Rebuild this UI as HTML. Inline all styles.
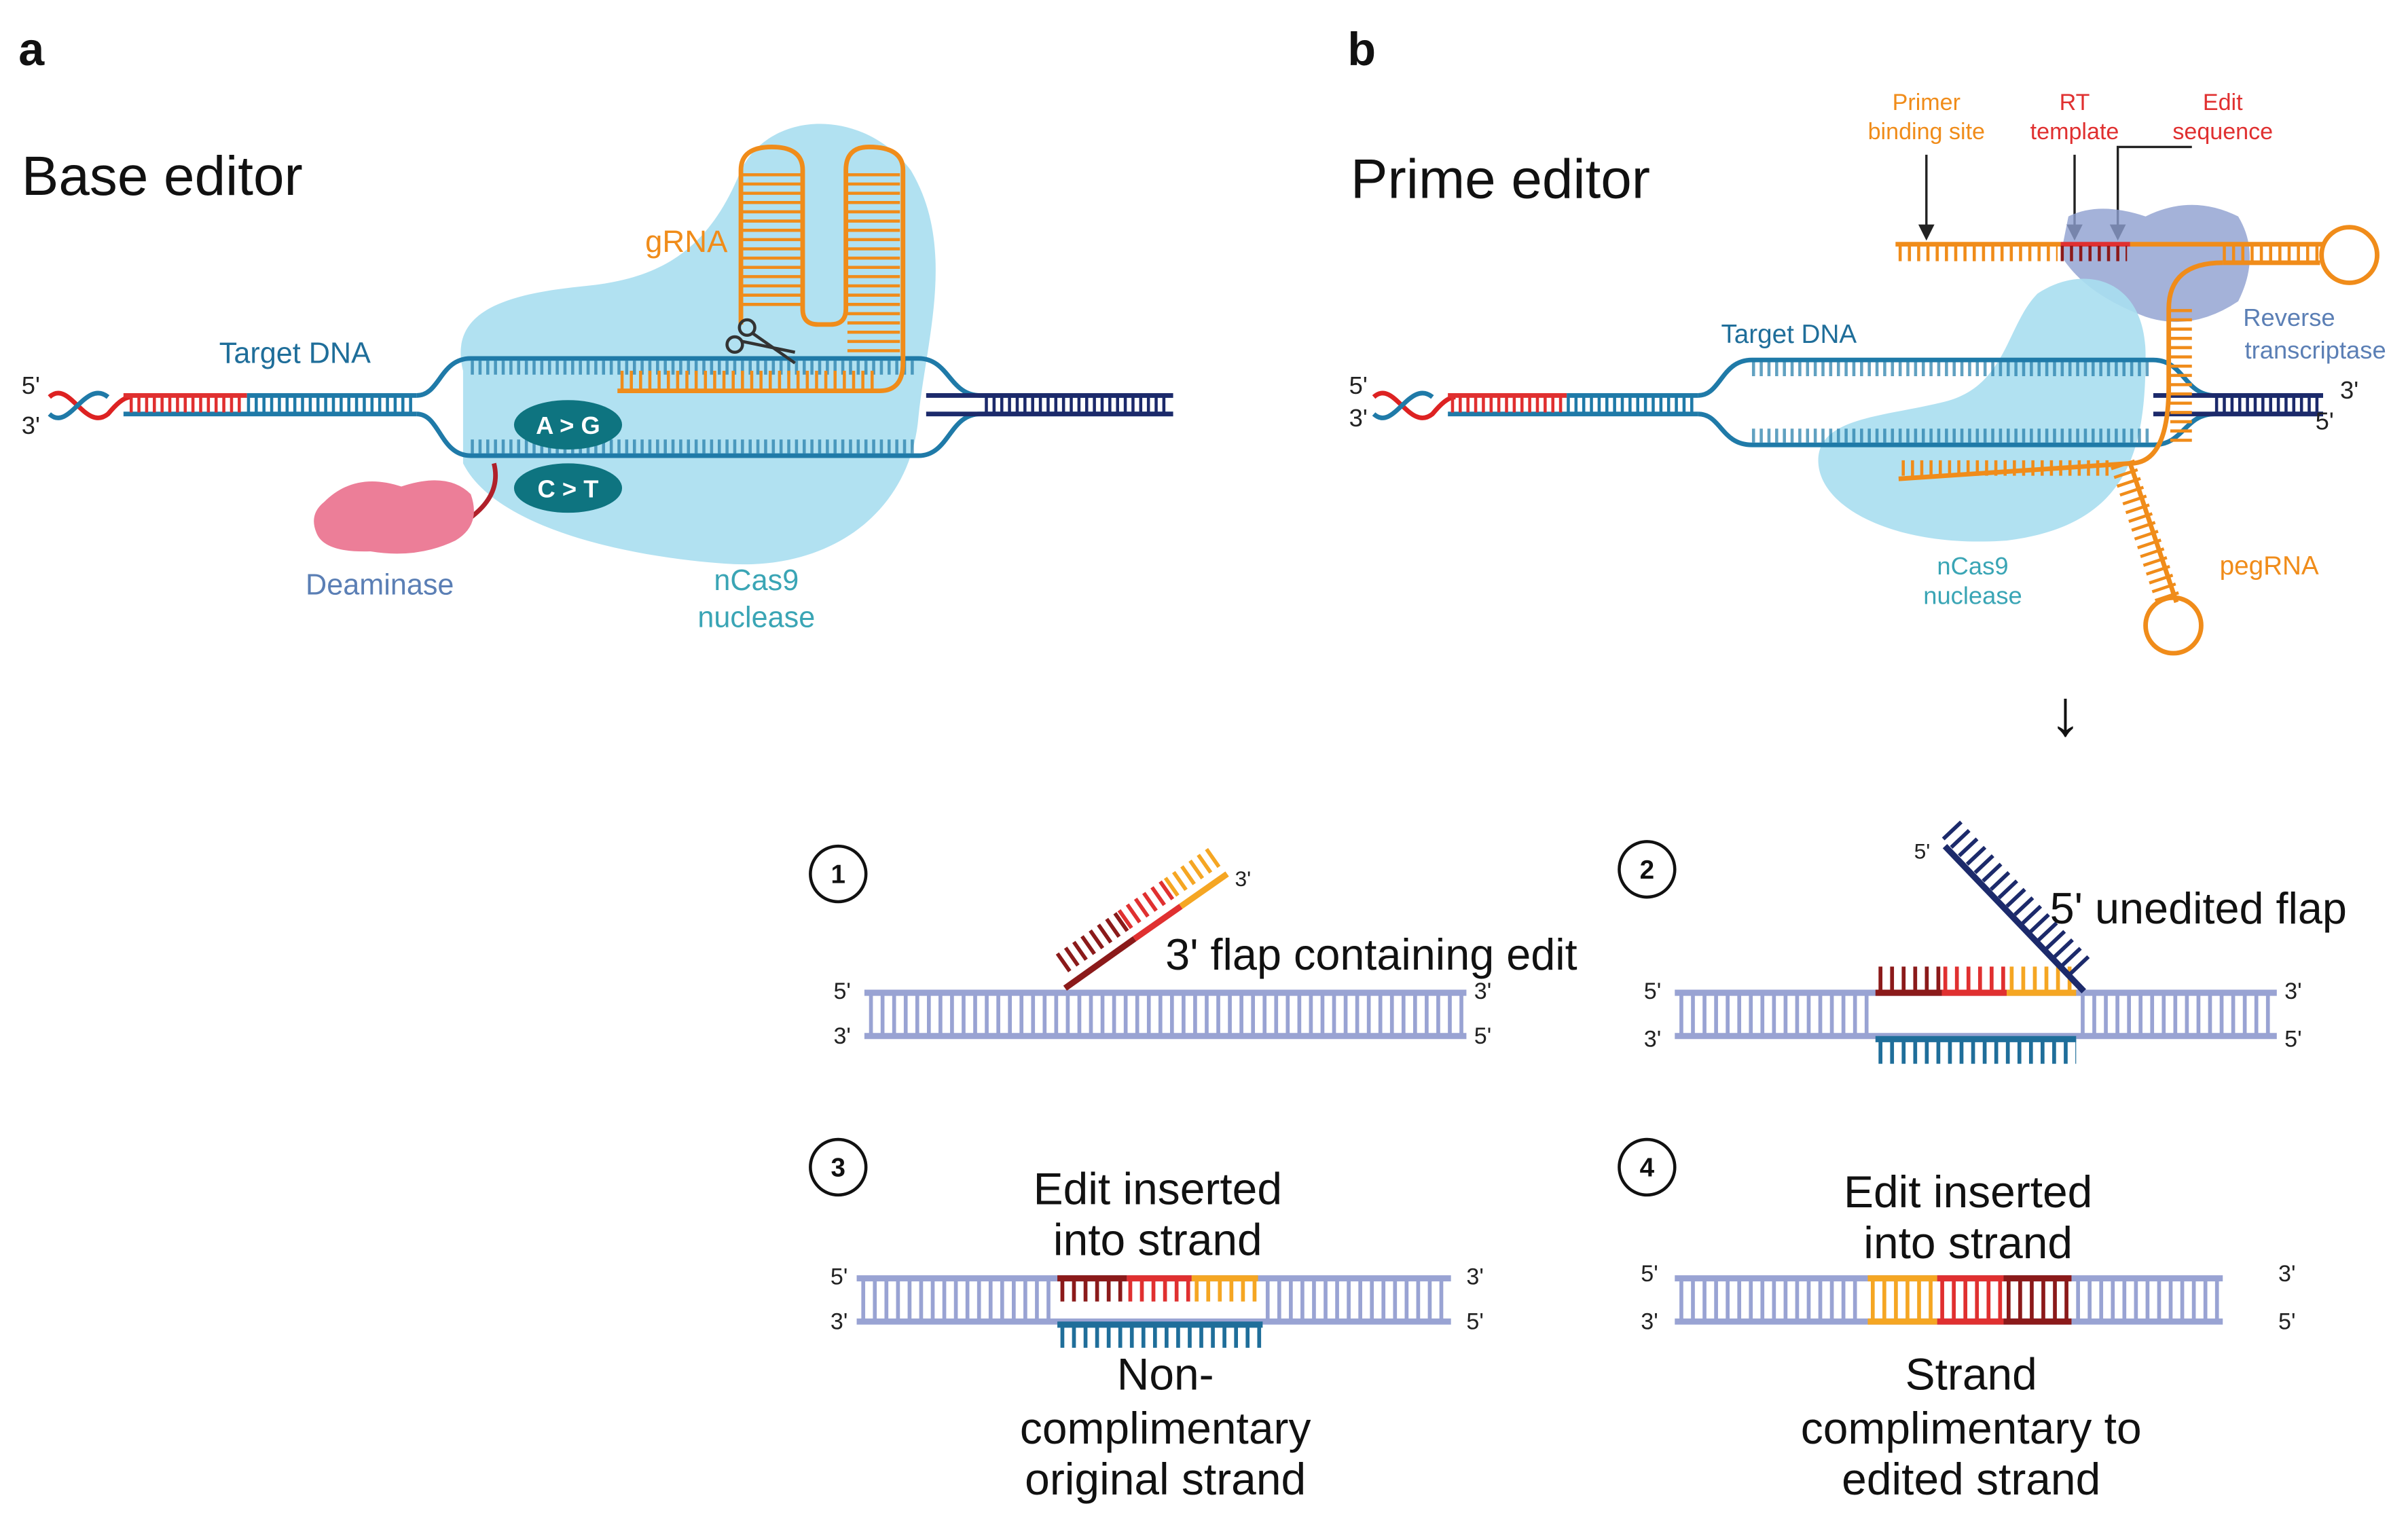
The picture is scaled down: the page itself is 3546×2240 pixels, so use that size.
<!DOCTYPE html>
<html><head><meta charset="utf-8"><style>
html,body{margin:0;padding:0;background:#fff;}
svg{display:block;}
text{font-family:"Liberation Sans",sans-serif;}
</style></head><body>
<svg width="3546" height="2240" viewBox="0 0 1560 985" xmlns="http://www.w3.org/2000/svg">
<rect width="1560" height="985" fill="#fff"/>
<!-- Panel a -->
<text x="12" y="42" font-size="30" font-weight="bold" fill="#111">a</text>
<text x="14" y="126" font-size="36" fill="#111">Base editor</text>
<path d="M300,240 C290,200 330,190 380,185 C430,180 460,160 480,110 C500,70 560,70 590,110 C620,160 600,220 595,270 C590,330 540,370 470,365 C400,360 320,340 300,300 Z" fill="#a9def0" opacity="0.9"/>
<path d="M32,257 C45,245 55,280 70,268 C75,262 80,257 85,257" stroke="#d22" stroke-width="3" fill="none"/>
<path d="M32,268 C45,280 55,245 70,257" stroke="#1f7aa8" stroke-width="3" fill="none"/>
<line x1="80" y1="256" x2="160" y2="256" stroke="#e03030" stroke-width="3"/>
<line x1="160" y1="256" x2="270" y2="256" stroke="#1f7aa8" stroke-width="3"/>
<line x1="80" y1="268" x2="270" y2="268" stroke="#1f7aa8" stroke-width="3"/>
<line x1="84" y1="262" x2="158" y2="262" stroke="#e03030" stroke-width="10" stroke-dasharray="2 3"/>
<line x1="160" y1="262" x2="268" y2="262" stroke="#1f7aa8" stroke-width="10" stroke-dasharray="2 3"/>
<path d="M270,256 C285,256 285,232 305,232 L595,232 C615,232 615,256 635,256 L760,256" stroke="#1f7aa8" stroke-width="3" fill="none"/>
<path d="M270,268 C285,268 285,295 305,295 L595,295 C615,295 615,268 635,268 L760,268" stroke="#1f7aa8" stroke-width="3" fill="none"/>
<line x1="600" y1="256" x2="760" y2="256" stroke="#1c2a6b" stroke-width="3"/>
<line x1="600" y1="268" x2="760" y2="268" stroke="#1c2a6b" stroke-width="3"/>
<line x1="638" y1="262" x2="758" y2="262" stroke="#1c2a6b" stroke-width="10" stroke-dasharray="2 3"/>
<line x1="305" y1="238" x2="595" y2="238" stroke="#1f7aa8" stroke-width="9" stroke-dasharray="2 3" opacity="0.7"/>
<line x1="305" y1="289" x2="595" y2="289" stroke="#1f7aa8" stroke-width="9" stroke-dasharray="2 3" opacity="0.7"/>
<path d="M400,253 L570,253 Q585,253 585,235 L585,110 Q585,95 563,95 Q548,95 548,110 L548,200 Q548,210 538,210 L530,210 Q520,210 520,200 L520,110 Q520,95 500,95 Q480,95 480,110 L480,210" stroke="#f08c1a" stroke-width="3" fill="none"/>
<line x1="402" y1="246" x2="568" y2="246" stroke="#f08c1a" stroke-width="12" stroke-dasharray="2 4"/>
<line x1="500" y1="112" x2="500" y2="200" stroke="#f08c1a" stroke-width="38" stroke-dasharray="2 4"/>
<line x1="566" y1="112" x2="566" y2="230" stroke="#f08c1a" stroke-width="34" stroke-dasharray="2 4"/>
<text x="418" y="163" font-size="20" fill="#f08c1a">gRNA</text>
<g stroke="#333" stroke-width="2" fill="none"><circle cx="484" cy="212" r="5"/><circle cx="476" cy="223" r="5"/><line x1="488" y1="216" x2="515" y2="235"/><line x1="481" y1="221" x2="515" y2="228"/></g>
<text x="142" y="235" font-size="19" fill="#1f6e9a">Target DNA</text>
<text x="14" y="255" font-size="16" fill="#222">5'</text>
<text x="14" y="281" font-size="16" fill="#222">3'</text>
<ellipse cx="368" cy="275" rx="35" ry="16" fill="#0e7480"/>
<text x="368" y="281" font-size="16" font-weight="bold" fill="#fff" text-anchor="middle">A &gt; G</text>
<ellipse cx="368" cy="316" rx="35" ry="16" fill="#0e7480"/>
<text x="368" y="322" font-size="16" font-weight="bold" fill="#fff" text-anchor="middle">C &gt; T</text>
<path d="M305,335 Q325,320 320,300" stroke="#b0202a" stroke-width="3" fill="none"/>
<path d="M210,325 Q230,305 260,315 Q290,305 305,320 Q312,340 295,350 Q270,362 240,357 Q210,358 205,345 Q200,333 210,325Z" fill="#ec7e98"/>
<text x="198" y="385" font-size="19" fill="#5b7fb5">Deaminase</text>
<text x="490" y="382" font-size="19" fill="#3aa5b5" text-anchor="middle">nCas9</text>
<text x="490" y="406" font-size="19" fill="#3aa5b5" text-anchor="middle">nuclease</text>

<!-- Panel b -->
<text x="873" y="42" font-size="30" font-weight="bold" fill="#111">b</text>
<text x="875" y="128" font-size="36" fill="#111">Prime editor</text>
<text x="1248" y="71" font-size="15" fill="#f08c1a" text-anchor="middle">Primer</text>
<text x="1248" y="90" font-size="15" fill="#f08c1a" text-anchor="middle">binding site</text>
<text x="1344" y="71" font-size="15" fill="#e03030" text-anchor="middle">RT</text>
<text x="1344" y="90" font-size="15" fill="#e03030" text-anchor="middle">template</text>
<text x="1440" y="71" font-size="15" fill="#e03030" text-anchor="middle">Edit</text>
<text x="1440" y="90" font-size="15" fill="#e03030" text-anchor="middle">sequence</text>
<g stroke="#222" stroke-width="1.5" fill="#222">
<line x1="1248" y1="100" x2="1248" y2="150"/><path d="M1244,146 L1252,146 L1248,154Z"/>
<line x1="1344" y1="100" x2="1344" y2="150"/><path d="M1340,146 L1348,146 L1344,154Z"/>
<path d="M1420,95 L1372,95 L1372,150" fill="none"/><path d="M1368,146 L1376,146 L1372,154Z"/>
</g>
<path d="M1340,140 Q1360,130 1390,140 Q1420,125 1450,140 Q1465,165 1450,195 Q1420,215 1390,205 Q1350,190 1335,165Z" fill="#8d9fcf" opacity="0.8"/>
<path d="M1320,190 C1350,170 1390,180 1390,230 C1390,290 1380,340 1300,350 C1230,355 1180,330 1178,300 C1176,270 1220,270 1260,260 C1300,250 1300,210 1320,190Z" fill="#a9def0" opacity="0.9"/>
<path d="M890,257 C903,245 913,280 928,268 C933,262 938,257 943,257" stroke="#d22" stroke-width="3" fill="none"/>
<path d="M890,268 C903,280 913,245 928,257" stroke="#1f7aa8" stroke-width="3" fill="none"/>
<line x1="938" y1="256" x2="1015" y2="256" stroke="#e03030" stroke-width="3"/>
<line x1="1015" y1="256" x2="1100" y2="256" stroke="#1f7aa8" stroke-width="3"/>
<line x1="938" y1="268" x2="1100" y2="268" stroke="#1f7aa8" stroke-width="3"/>
<line x1="940" y1="262" x2="1013" y2="262" stroke="#e03030" stroke-width="10" stroke-dasharray="2 3"/>
<line x1="1015" y1="262" x2="1100" y2="262" stroke="#1f7aa8" stroke-width="10" stroke-dasharray="2 3"/>
<path d="M1100,256 C1115,256 1115,233 1135,233 L1395,233 C1415,233 1415,256 1435,256 L1505,256" stroke="#1f7aa8" stroke-width="3" fill="none"/>
<path d="M1100,268 C1115,268 1115,288 1135,288 L1395,288 C1415,288 1415,268 1435,268 L1505,268" stroke="#1f7aa8" stroke-width="3" fill="none"/>
<line x1="1395" y1="256" x2="1505" y2="256" stroke="#1c2a6b" stroke-width="3"/>
<line x1="1395" y1="268" x2="1505" y2="268" stroke="#1c2a6b" stroke-width="3"/>
<line x1="1435" y1="262" x2="1503" y2="262" stroke="#1c2a6b" stroke-width="10" stroke-dasharray="2 3"/>
<line x1="1135" y1="239" x2="1395" y2="239" stroke="#1f7aa8" stroke-width="9" stroke-dasharray="2 3" opacity="0.7"/>
<line x1="1135" y1="282" x2="1395" y2="282" stroke="#1f7aa8" stroke-width="9" stroke-dasharray="2 3" opacity="0.7"/>
<line x1="1228" y1="158" x2="1335" y2="158" stroke="#f08c1a" stroke-width="3"/>
<line x1="1335" y1="158" x2="1380" y2="158" stroke="#e03030" stroke-width="3"/>
<line x1="1380" y1="158" x2="1505" y2="158" stroke="#f08c1a" stroke-width="3"/>
<line x1="1230" y1="164" x2="1333" y2="164" stroke="#f08c1a" stroke-width="10" stroke-dasharray="2 4"/>
<line x1="1335" y1="164" x2="1378" y2="164" stroke="#8b1a1a" stroke-width="10" stroke-dasharray="2 4"/>
<line x1="1440" y1="164" x2="1503" y2="164" stroke="#f08c1a" stroke-width="10" stroke-dasharray="2 4"/>
<line x1="1440" y1="170" x2="1503" y2="170" stroke="#f08c1a" stroke-width="3"/>
<circle cx="1522" cy="165" r="18" stroke="#f08c1a" stroke-width="3" fill="none"/>
<path d="M1440,170 Q1405,170 1405,200 L1405,250 Q1405,300 1380,300 L1230,310 M1380,300 L1410,390" stroke="#f08c1a" stroke-width="3" fill="none"/>
<line x1="1413" y1="200" x2="1413" y2="290" stroke="#f08c1a" stroke-width="14" stroke-dasharray="2 4"/>
<line x1="1232" y1="303" x2="1370" y2="303" stroke="#f08c1a" stroke-width="10" stroke-dasharray="2 4"/>
<path d="M1375,300 L1405,390" stroke="#f08c1a" stroke-width="16" stroke-dasharray="2 4" fill="none"/>
<circle cx="1408" cy="405" r="18" stroke="#f08c1a" stroke-width="3" fill="none"/>
<text x="1115" y="222" font-size="17" fill="#1f6e9a">Target DNA</text>
<text x="874" y="255" font-size="16" fill="#222">5'</text>
<text x="874" y="276" font-size="16" fill="#222">3'</text>
<text x="1516" y="258" font-size="16" fill="#222">3'</text>
<text x="1500" y="278" font-size="16" fill="#222">5'</text>
<text x="1483" y="211" font-size="16" fill="#5b7fb5" text-anchor="middle">Reverse</text>
<text x="1500" y="232" font-size="16" fill="#5b7fb5" text-anchor="middle">transcriptase</text>
<text x="1278" y="372" font-size="16" fill="#3aa5b5" text-anchor="middle">nCas9</text>
<text x="1278" y="391" font-size="16" fill="#3aa5b5" text-anchor="middle">nuclease</text>
<text x="1438" y="372" font-size="17" fill="#f08c1a">pegRNA</text>
<text x="1338" y="476" font-size="42" fill="#111" text-anchor="middle">↓</text>

<g stroke="#111" stroke-width="2" fill="none">
<circle cx="543" cy="566" r="18"/><circle cx="1067" cy="563" r="18"/>
<circle cx="543" cy="756" r="18"/><circle cx="1067" cy="756" r="18"/></g>
<g font-size="17" font-weight="bold" text-anchor="middle" fill="#111">
<text x="543" y="572">1</text><text x="1067" y="569">2</text><text x="543" y="762">3</text><text x="1067" y="762">4</text></g>

<g stroke="#99a3d3">
<line x1="560" y1="643" x2="950" y2="643" stroke-width="4"/>
<line x1="560" y1="671" x2="950" y2="671" stroke-width="4"/>
<line x1="563" y1="657" x2="950" y2="657" stroke-width="26" stroke-dasharray="2.5 5"/></g>
<path d="M690,640 L735,608" stroke="#8b1a1a" stroke-width="4"/><path d="M735,608 L765,587" stroke="#e03030" stroke-width="4"/><path d="M765,587 L795,566" stroke="#f5a623" stroke-width="4"/>
<path d="M693,631 L733,603" stroke="#8b1a1a" stroke-width="14" stroke-dasharray="2.5 4" transform="translate(-5,-7)"/>
<path d="M733,603 L763,582" stroke="#e03030" stroke-width="14" stroke-dasharray="2.5 4" transform="translate(-5,-7)"/>
<path d="M763,582 L793,561" stroke="#f5a623" stroke-width="14" stroke-dasharray="2.5 4" transform="translate(-5,-7)"/>
<text x="800" y="574" font-size="14" fill="#222">3'</text>
<text x="755" y="628" font-size="28.5" fill="#111">3' flap containing edit</text>
<text x="540" y="647" font-size="15" fill="#222">5'</text><text x="955" y="647" font-size="15" fill="#222">3'</text>
<text x="540" y="676" font-size="15" fill="#222">3'</text><text x="955" y="676" font-size="15" fill="#222">5'</text>

<g stroke="#99a3d3">
<line x1="1085" y1="643" x2="1475" y2="643" stroke-width="4"/>
<line x1="1085" y1="671" x2="1475" y2="671" stroke-width="4"/>
<line x1="1088" y1="657" x2="1213" y2="657" stroke-width="26" stroke-dasharray="2.5 5"/>
<line x1="1348" y1="657" x2="1475" y2="657" stroke-width="26" stroke-dasharray="2.5 5"/></g>
<line x1="1215" y1="643" x2="1258" y2="643" stroke="#8b1a1a" stroke-width="4"/>
<line x1="1258" y1="643" x2="1300" y2="643" stroke="#e03030" stroke-width="4"/>
<line x1="1300" y1="643" x2="1345" y2="643" stroke="#f5a623" stroke-width="4"/>
<line x1="1217" y1="634" x2="1258" y2="634" stroke="#8b1a1a" stroke-width="16" stroke-dasharray="2.5 5"/>
<line x1="1259" y1="634" x2="1300" y2="634" stroke="#e03030" stroke-width="16" stroke-dasharray="2.5 5"/>
<line x1="1302" y1="634" x2="1345" y2="634" stroke="#f5a623" stroke-width="16" stroke-dasharray="2.5 5"/>
<line x1="1215" y1="673" x2="1345" y2="673" stroke="#1f6e9a" stroke-width="4"/>
<line x1="1217" y1="681" x2="1345" y2="681" stroke="#1f6e9a" stroke-width="16" stroke-dasharray="2.5 5"/>
<path d="M1350,642 L1260,548" stroke="#1c2a6b" stroke-width="4"/>
<path d="M1340,630 L1255,540" stroke="#1c2a6b" stroke-width="16" stroke-dasharray="2.5 5" transform="translate(8,-4)"/>
<text x="1240" y="556" font-size="14" fill="#222">5'</text>
<text x="1328" y="598" font-size="28.5" fill="#111">5' unedited flap</text>
<text x="1065" y="647" font-size="15" fill="#222">5'</text><text x="1480" y="647" font-size="15" fill="#222">3'</text>
<text x="1065" y="678" font-size="15" fill="#222">3'</text><text x="1480" y="678" font-size="15" fill="#222">5'</text>

<g stroke="#99a3d3">
<line x1="555" y1="828" x2="940" y2="828" stroke-width="4"/>
<line x1="555" y1="856" x2="940" y2="856" stroke-width="4"/>
<line x1="558" y1="842" x2="683" y2="842" stroke-width="26" stroke-dasharray="2.5 5"/>
<line x1="820" y1="842" x2="940" y2="842" stroke-width="26" stroke-dasharray="2.5 5"/></g>
<line x1="685" y1="828" x2="730" y2="828" stroke="#8b1a1a" stroke-width="4"/>
<line x1="730" y1="828" x2="772" y2="828" stroke="#e03030" stroke-width="4"/>
<line x1="772" y1="828" x2="815" y2="828" stroke="#f5a623" stroke-width="4"/>
<line x1="687" y1="836" x2="730" y2="836" stroke="#8b1a1a" stroke-width="14" stroke-dasharray="2.5 5"/>
<line x1="731" y1="836" x2="772" y2="836" stroke="#e03030" stroke-width="14" stroke-dasharray="2.5 5"/>
<line x1="774" y1="836" x2="815" y2="836" stroke="#f5a623" stroke-width="14" stroke-dasharray="2.5 5"/>
<line x1="685" y1="858" x2="818" y2="858" stroke="#1f6e9a" stroke-width="4"/>
<line x1="687" y1="866" x2="818" y2="866" stroke="#1f6e9a" stroke-width="14" stroke-dasharray="2.5 5"/>
<text x="750" y="780" font-size="29" fill="#111" text-anchor="middle">Edit inserted</text>
<text x="750" y="813" font-size="29" fill="#111" text-anchor="middle">into strand</text>
<text x="755" y="900" font-size="29" fill="#111" text-anchor="middle">Non-</text>
<text x="755" y="935" font-size="29" fill="#111" text-anchor="middle">complimentary</text>
<text x="755" y="968" font-size="29" fill="#111" text-anchor="middle">original strand</text>
<text x="538" y="832" font-size="15" fill="#222">5'</text><text x="950" y="832" font-size="15" fill="#222">3'</text>
<text x="538" y="861" font-size="15" fill="#222">3'</text><text x="950" y="861" font-size="15" fill="#222">5'</text>

<g stroke="#99a3d3">
<line x1="1085" y1="828" x2="1440" y2="828" stroke-width="4"/>
<line x1="1085" y1="856" x2="1440" y2="856" stroke-width="4"/>
<line x1="1088" y1="842" x2="1208" y2="842" stroke-width="26" stroke-dasharray="2.5 5"/>
<line x1="1345" y1="842" x2="1440" y2="842" stroke-width="26" stroke-dasharray="2.5 5"/></g>
<line x1="1210" y1="828" x2="1255" y2="828" stroke="#f5a623" stroke-width="4"/><line x1="1210" y1="856" x2="1255" y2="856" stroke="#f5a623" stroke-width="4"/>
<line x1="1212" y1="842" x2="1255" y2="842" stroke="#f5a623" stroke-width="26" stroke-dasharray="2.5 5"/>
<line x1="1255" y1="828" x2="1298" y2="828" stroke="#e03030" stroke-width="4"/><line x1="1255" y1="856" x2="1298" y2="856" stroke="#e03030" stroke-width="4"/>
<line x1="1257" y1="842" x2="1298" y2="842" stroke="#e03030" stroke-width="26" stroke-dasharray="2.5 5"/>
<line x1="1298" y1="828" x2="1342" y2="828" stroke="#8b1a1a" stroke-width="4"/><line x1="1298" y1="856" x2="1342" y2="856" stroke="#8b1a1a" stroke-width="4"/>
<line x1="1300" y1="842" x2="1342" y2="842" stroke="#8b1a1a" stroke-width="26" stroke-dasharray="2.5 5"/>
<text x="1275" y="782" font-size="29" fill="#111" text-anchor="middle">Edit inserted</text>
<text x="1275" y="815" font-size="29" fill="#111" text-anchor="middle">into strand</text>
<text x="1277" y="900" font-size="29" fill="#111" text-anchor="middle">Strand</text>
<text x="1277" y="935" font-size="29" fill="#111" text-anchor="middle">complimentary to</text>
<text x="1277" y="968" font-size="29" fill="#111" text-anchor="middle">edited strand</text>
<text x="1063" y="830" font-size="15" fill="#222">5'</text><text x="1476" y="830" font-size="15" fill="#222">3'</text>
<text x="1063" y="861" font-size="15" fill="#222">3'</text><text x="1476" y="861" font-size="15" fill="#222">5'</text>
</svg>
</body></html>
